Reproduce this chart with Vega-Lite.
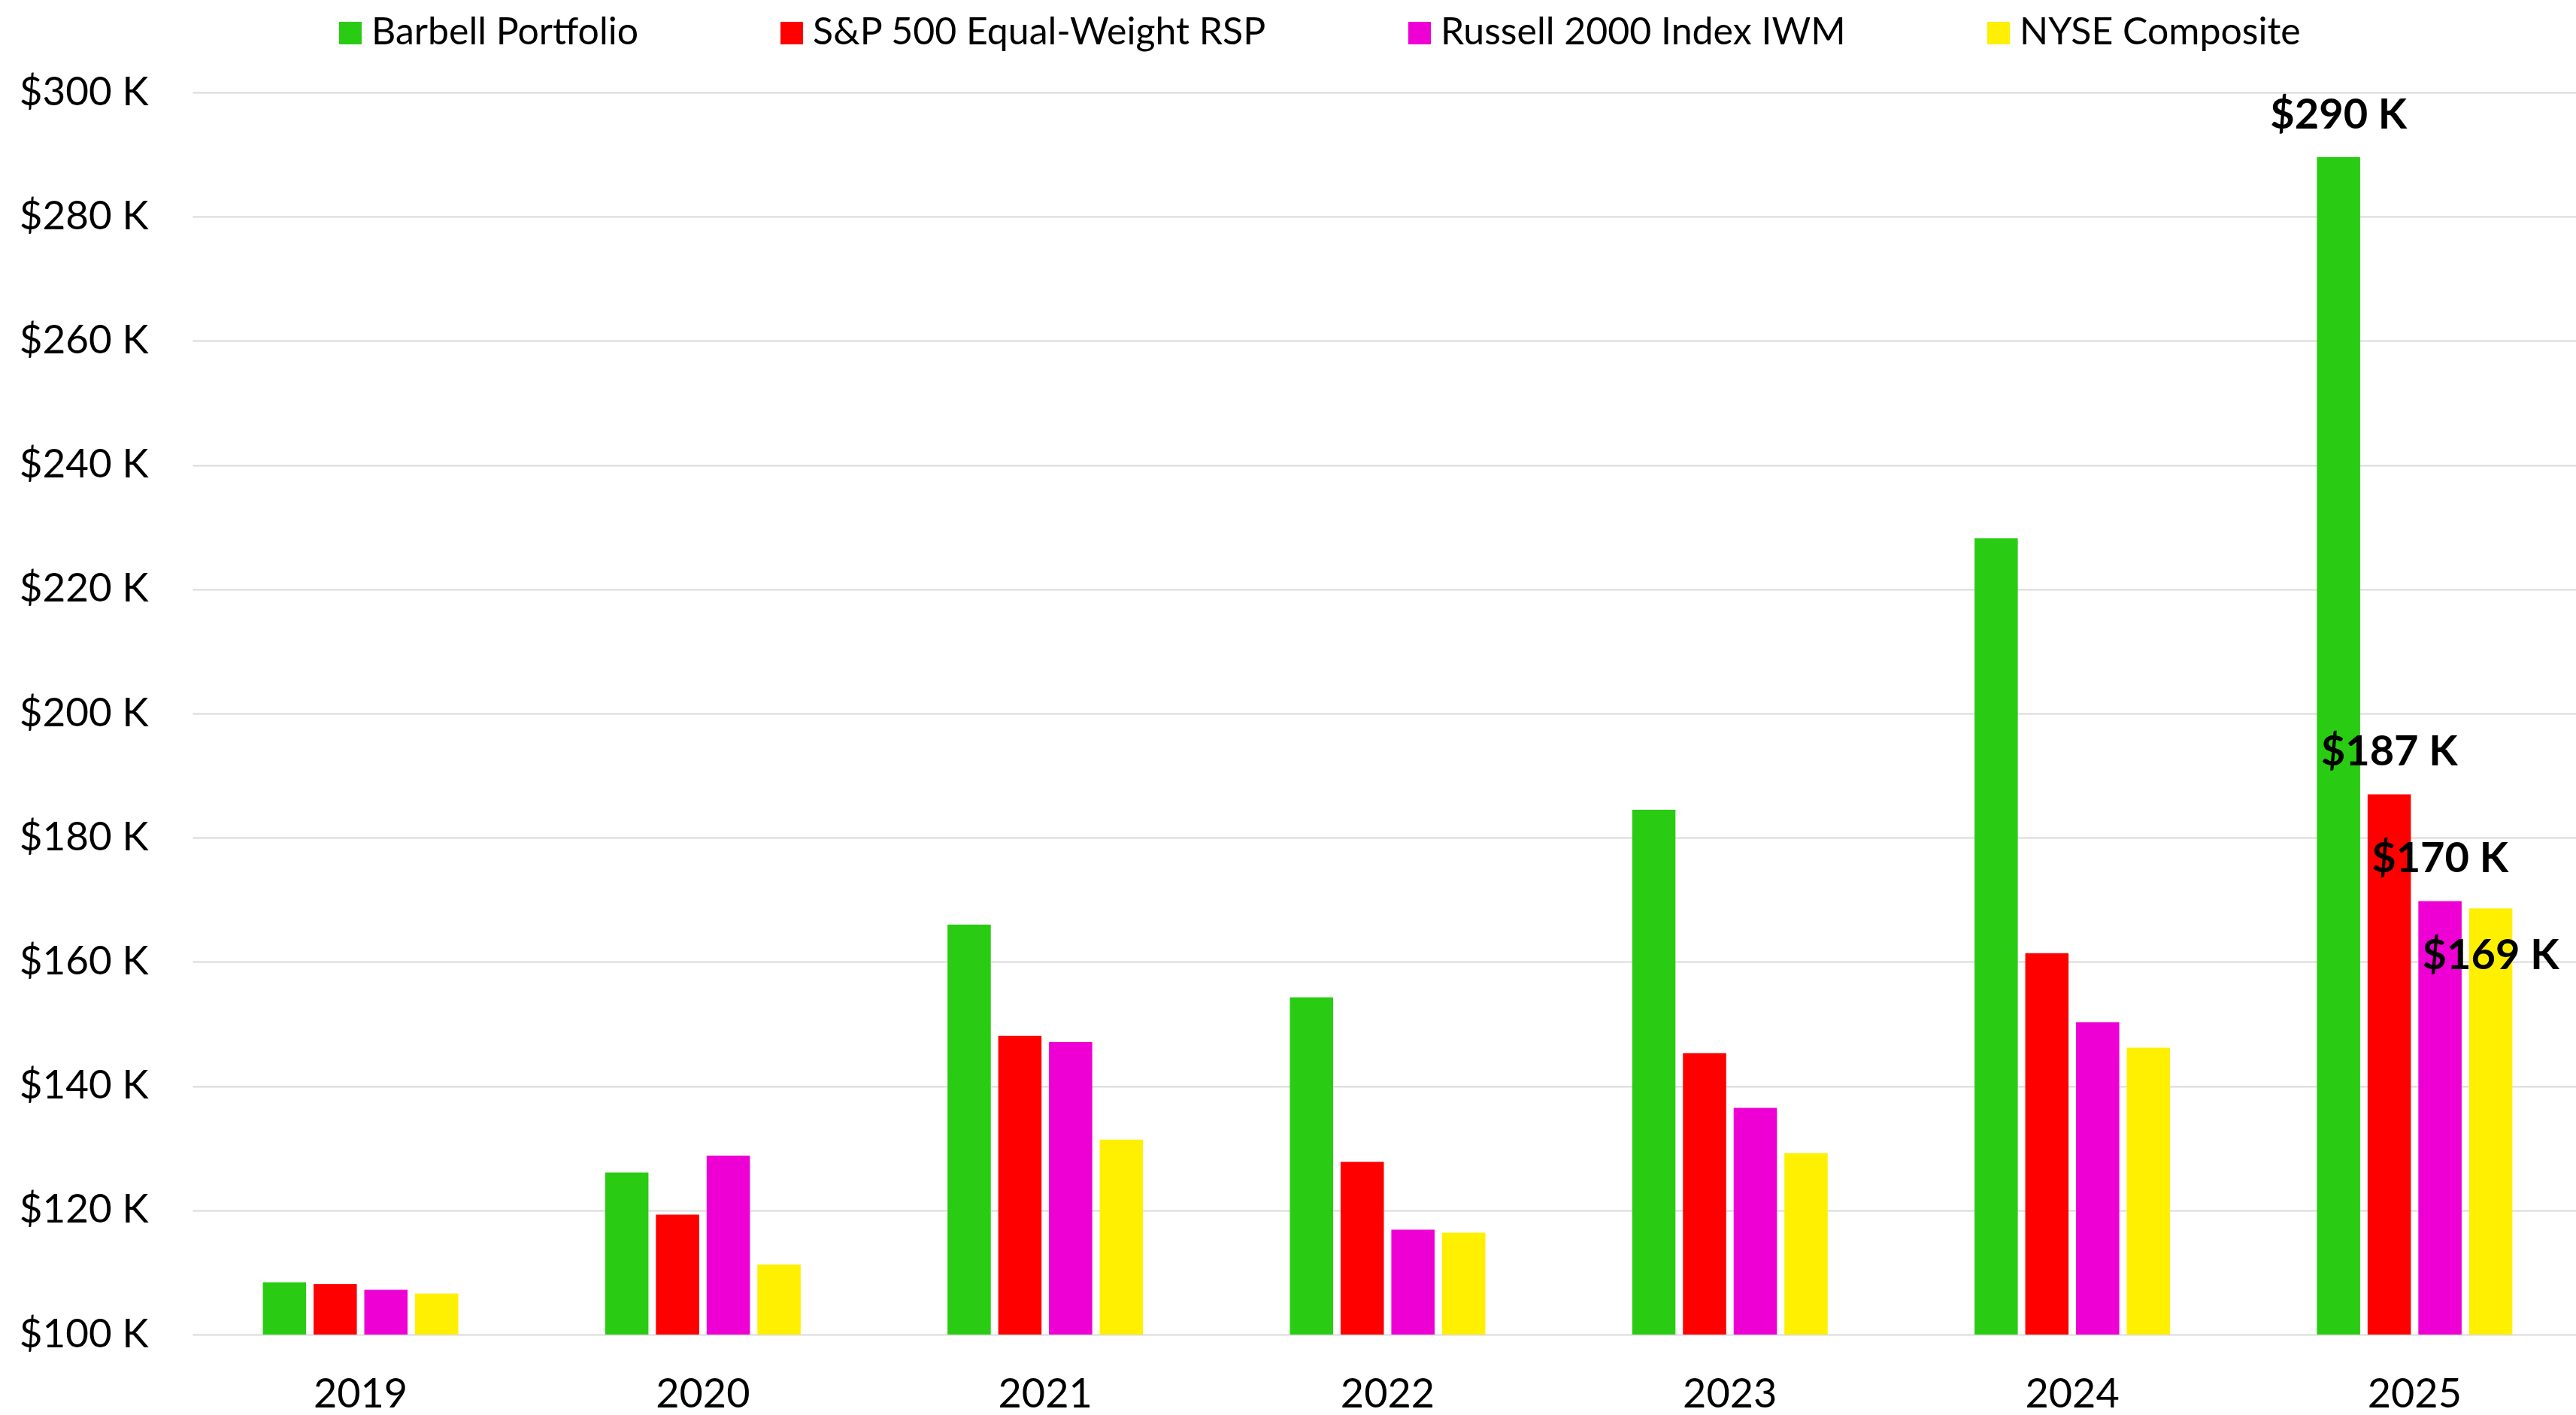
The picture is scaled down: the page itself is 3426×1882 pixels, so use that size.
{
  "$schema": "https://vega.github.io/schema/vega-lite/v6.json",
  "width": 3170,
  "height": 1652,
  "autosize": {"type": "none"},
  "padding": {"left": 256, "top": 123, "right": 0, "bottom": 107},
  "background": "white",
  "config": {"view": {"stroke": null}, "font": "Lato"},
  "data": {
    "values": [
      {"year": 2019, "series": "Barbell Portfolio", "value": 108.4},
      {"year": 2019, "series": "S&P 500 Equal-Weight RSP", "value": 108.1},
      {"year": 2019, "series": "Russell 2000 Index IWM", "value": 107.2},
      {"year": 2019, "series": "NYSE Composite", "value": 106.6},
      {"year": 2020, "series": "Barbell Portfolio", "value": 126.1},
      {"year": 2020, "series": "S&P 500 Equal-Weight RSP", "value": 119.3},
      {"year": 2020, "series": "Russell 2000 Index IWM", "value": 128.8},
      {"year": 2020, "series": "NYSE Composite", "value": 111.3},
      {"year": 2021, "series": "Barbell Portfolio", "value": 166.0},
      {"year": 2021, "series": "S&P 500 Equal-Weight RSP", "value": 148.1},
      {"year": 2021, "series": "Russell 2000 Index IWM", "value": 147.1},
      {"year": 2021, "series": "NYSE Composite", "value": 131.4},
      {"year": 2022, "series": "Barbell Portfolio", "value": 154.3},
      {"year": 2022, "series": "S&P 500 Equal-Weight RSP", "value": 127.8},
      {"year": 2022, "series": "Russell 2000 Index IWM", "value": 116.9},
      {"year": 2022, "series": "NYSE Composite", "value": 116.4},
      {"year": 2023, "series": "Barbell Portfolio", "value": 184.5},
      {"year": 2023, "series": "S&P 500 Equal-Weight RSP", "value": 145.3},
      {"year": 2023, "series": "Russell 2000 Index IWM", "value": 136.5},
      {"year": 2023, "series": "NYSE Composite", "value": 129.2},
      {"year": 2024, "series": "Barbell Portfolio", "value": 228.2},
      {"year": 2024, "series": "S&P 500 Equal-Weight RSP", "value": 161.4},
      {"year": 2024, "series": "Russell 2000 Index IWM", "value": 150.3},
      {"year": 2024, "series": "NYSE Composite", "value": 146.2},
      {"year": 2025, "series": "Barbell Portfolio", "value": 289.6},
      {"year": 2025, "series": "S&P 500 Equal-Weight RSP", "value": 187.0},
      {"year": 2025, "series": "Russell 2000 Index IWM", "value": 169.8},
      {"year": 2025, "series": "NYSE Composite", "value": 168.6}
    ]
  },
  "layer": [
    {
      "mark": {"type": "bar"},
      "encoding": {
        "x": {
          "field": "year", "type": "ordinal",
          "scale": {"paddingInner": 0.429, "paddingOuter": 0.1957, "align": 0.525},
          "axis": {"title": null, "labelAngle": 0, "ticks": false, "domain": false, "labelFontSize": 54, "labelColor": "black", "labelPadding": 53, "labelFont": "Lato"}
        },
        "xOffset": {
          "field": "series", "type": "nominal",
          "sort": ["Barbell Portfolio", "S&P 500 Equal-Weight RSP", "Russell 2000 Index IWM", "NYSE Composite"],
          "scale": {"paddingInner": 0.147, "paddingOuter": 0}
        },
        "y": {
          "field": "value", "type": "quantitative",
          "scale": {"domain": [100, 300], "zero": false, "nice": false},
          "axis": {"title": null, "values": [100, 120, 140, 160, 180, 200, 220, 240, 260, 280, 300], "labelExpr": "'$' + datum.value + ' K'", "ticks": false, "domain": false, "labelFontSize": 53, "labelFont": "Lato", "labelPadding": 59, "labelColor": "black", "gridColor": "#d9d9d9", "gridWidth": 2}
        },
        "y2": {"datum": 100},
        "color": {
          "field": "series", "type": "nominal",
          "scale": {
            "domain": ["Barbell Portfolio", "S&P 500 Equal-Weight RSP", "Russell 2000 Index IWM", "NYSE Composite"],
            "range": ["#2ACC13", "#FF0000", "#EE00D4", "#FFEF00"]
          },
          "legend": {"title": null, "orient": "none", "legendX": 185, "legendY": -104, "direction": "horizontal", "symbolType": "square", "symbolSize": 900, "symbolStrokeWidth": 0, "labelFontSize": 50, "labelFont": "Lato", "labelOffset": 3, "columnPadding": 178, "labelColor": "black", "labelLimit": 1000}
        }
      }
    },
    {
      "transform": [
        {"filter": "datum.year == 2025 && datum.series != 'NYSE Composite'"},
        {"calculate": "'$' + format(datum.value, '.0f') + ' K'", "as": "label"}
      ],
      "mark": {"type": "text", "baseline": "alphabetic", "align": "center", "dy": -38, "fontSize": 56, "fontWeight": "bold", "font": "Lato", "color": "black"},
      "encoding": {
        "x": {"field": "year", "type": "ordinal"},
        "xOffset": {"field": "series", "type": "nominal", "sort": ["Barbell Portfolio", "S&P 500 Equal-Weight RSP", "Russell 2000 Index IWM", "NYSE Composite"]},
        "y": {"field": "value", "type": "quantitative"},
        "text": {"field": "label", "type": "nominal"}
      }
    },
    {
      "transform": [
        {"filter": "datum.year == 2025 && datum.series == 'NYSE Composite'"},
        {"calculate": "'$' + format(datum.value, '.0f') + ' K'", "as": "label"}
      ],
      "mark": {"type": "text", "baseline": "alphabetic", "align": "center", "dy": 81, "fontSize": 56, "fontWeight": "bold", "font": "Lato", "color": "black"},
      "encoding": {
        "x": {"field": "year", "type": "ordinal"},
        "xOffset": {"field": "series", "type": "nominal", "sort": ["Barbell Portfolio", "S&P 500 Equal-Weight RSP", "Russell 2000 Index IWM", "NYSE Composite"]},
        "y": {"field": "value", "type": "quantitative"},
        "text": {"field": "label", "type": "nominal"}
      }
    }
  ]
}
